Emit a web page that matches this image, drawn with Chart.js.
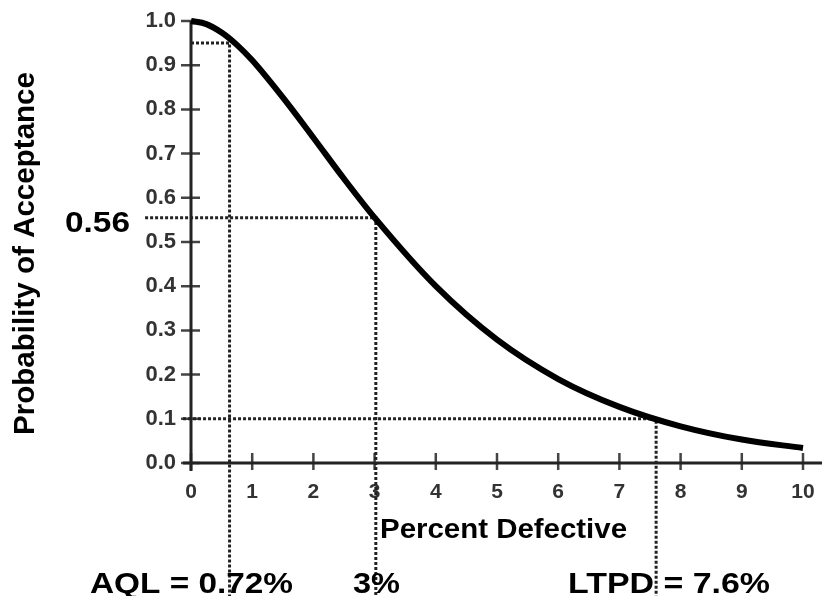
<!DOCTYPE html>
<html>
<head>
<meta charset="utf-8">
<script src="https://cdn.jsdelivr.net/npm/chart.js@4.4.0/dist/chart.umd.min.js"></script>
<style>
    html, body { margin: 0; padding: 0; background: #fff; }
    #wrap { width: 822px; height: 596px; }
</style>
</head>
<body>
<div id="wrap"><canvas id="oc-chart" width="822" height="596"></canvas></div>
<script>
// OC curve: percent defective vs probability of acceptance
const percentDefective = [0, 0.25, 0.5, 0.75, 1, 1.5, 2, 2.5, 3, 4, 5, 6, 7, 8, 9, 10];
const probAcceptance  = [1.0, 0.993, 0.974, 0.946, 0.911, 0.827, 0.736, 0.643, 0.555, 0.400, 0.279, 0.190, 0.127, 0.083, 0.053, 0.034];

const xTicks = [0, 1, 2, 3, 4, 5, 6, 7, 8, 9, 10];
const yTicks = [0, 0.1, 0.2, 0.3, 0.4, 0.5, 0.6, 0.7, 0.8, 0.9, 1.0];

// dotted reference lines (AQL, 3%, LTPD): corner point, where the horizontal starts, where the vertical ends
const refX      = [0.63, 3.02, 7.6];
const refY      = [0.95, 0.555, 0.10];
const refStartX = [0, -0.75, -0.13];
const refEndY   = [-2.13, -2.27, -1.93];

const FONT = 'Liberation Sans';

function refLine(i) {
    return {
        data: [
            { x: refStartX[i], y: refY[i] },
            { x: refX[i], y: refY[i] },
            { x: refX[i], y: refEndY[i] }
        ],
        borderColor: '#222',
        borderWidth: 3,
        borderDash: [3, 2],
        pointRadius: 0,
        tension: 0,
        clip: false
    };
}

// draw text stretched to a given width, left edge at x, baseline at y
function fitText(ctx, text, x, y, size, width) {
    ctx.save();
    ctx.font = 'bold ' + size + 'px "' + FONT + '"';
    ctx.textAlign = 'left';
    ctx.textBaseline = 'alphabetic';
    const w = ctx.measureText(text).width;
    ctx.translate(x, y);
    ctx.scale(width / w, 1);
    ctx.fillText(text, 0, 0);
    ctx.restore();
}

const ocDecor = {
    id: 'ocDecor',
    beforeDatasetsDraw(chart) {
        const { ctx, scales: { x, y } } = chart;
        const left = x.getPixelForValue(0);
        const bottom = y.getPixelForValue(0);

        ctx.save();
        // tick marks crossing the axes
        ctx.strokeStyle = '#444';
        ctx.lineWidth = 2.5;
        ctx.beginPath();
        yTicks.forEach(v => {
            const py = y.getPixelForValue(v);
            ctx.moveTo(left - 10, py);
            ctx.lineTo(left + 9, py);
        });
        xTicks.forEach(v => {
            const px = x.getPixelForValue(v);
            ctx.moveTo(px, bottom - 10);
            ctx.lineTo(px, bottom + 7);
        });
        ctx.stroke();

        // axis lines
        ctx.strokeStyle = '#222';
        ctx.lineWidth = 3;
        ctx.beginPath();
        ctx.moveTo(left, y.getPixelForValue(1.0));
        ctx.lineTo(left, bottom + 8);
        ctx.moveTo(left - 8, bottom);
        ctx.lineTo(chart.width, bottom);
        ctx.stroke();
        ctx.restore();
    },
    afterDraw(chart) {
        const ctx = chart.ctx;
        ctx.save();
        ctx.fillStyle = '#000';

        fitText(ctx, '0.56', 65, 232, 30, 65);
        fitText(ctx, 'Percent Defective', 380, 538, 27, 247);
        fitText(ctx, 'AQL = 0.72%', 90, 593, 30, 203);
        fitText(ctx, '3%', 353, 593, 30, 47);
        fitText(ctx, 'LTPD = 7.6%', 568, 593, 30, 202);

        // rotated y axis title
        ctx.save();
        ctx.translate(34, 435);
        ctx.rotate(-Math.PI / 2);
        fitText(ctx, 'Probability of Acceptance', 0, 0, 29, 363);
        ctx.restore();

        ctx.restore();
    }
};

const ctx = document.getElementById('oc-chart');
new Chart(ctx, {
    type: 'line',
    data: {
        datasets: [
            {
                data: percentDefective.map((p, i) => ({ x: p, y: probAcceptance[i] })),
                borderColor: '#000',
                borderWidth: 6,
                pointRadius: 0,
                cubicInterpolationMode: 'monotone',
                clip: false
            },
            refLine(0),
            refLine(1),
            refLine(2)
        ]
    },
    options: {
        responsive: false,
        animation: false,
        events: [],
        layout: {
            padding: { left: 131, right: 19, top: 21, bottom: 93 }
        },
        plugins: {
            legend: { display: false },
            tooltip: { enabled: false }
        },
        scales: {
            x: {
                type: 'linear',
                min: 0,
                max: 10,
                afterBuildTicks: scale => { scale.ticks = xTicks.map(v => ({ value: v })); },
                afterFit: scale => {
                    scale.height = 40;
                    scale.paddingLeft = 0;
                    scale.paddingRight = 0;
                },
                grid: { display: false },
                border: { display: false },
                ticks: {
                    padding: 9,
                    color: '#333',
                    font: { family: FONT, size: 21, weight: 'bold' },
                    callback: v => String(v)
                }
            },
            y: {
                type: 'linear',
                min: 0,
                max: 1,
                afterBuildTicks: scale => { scale.ticks = yTicks.map(v => ({ value: v })); },
                afterFit: scale => {
                    scale.width = 60;
                    scale.paddingTop = 0;
                    scale.paddingBottom = 0;
                },
                grid: { display: false },
                border: { display: false },
                ticks: {
                    padding: 7,
                    color: '#333',
                    font: { family: FONT, size: 22, weight: 'bold' },
                    callback: v => v.toFixed(1)
                }
            }
        }
    },
    plugins: [ocDecor]
});
</script>
</body>
</html>
